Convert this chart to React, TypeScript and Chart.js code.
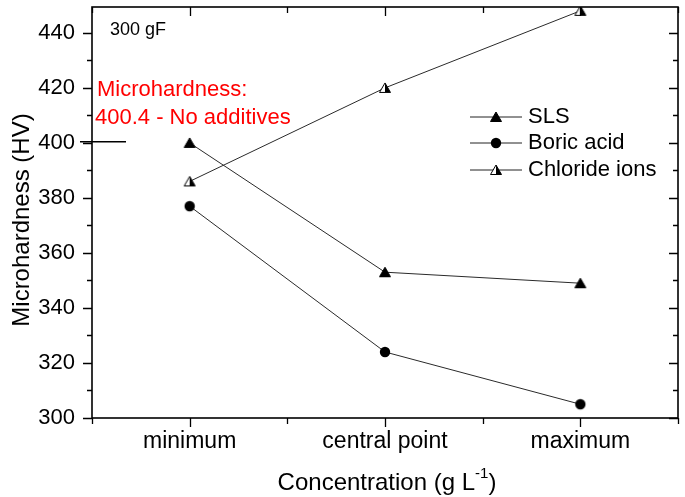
import React, { useEffect, useRef } from "react";
import { Chart, registerables } from "chart.js";

Chart.register(...registerables);

const categories = ["minimum", "central point", "maximum"];
const slsValues = [400, 353, 349];
const boricValues = [377, 324, 305];
const chlorideValues = [386, 420, 448];
const seriesNames = ["SLS", "Boric acid", "Chloride ions"];
const yMin = 300;
const yMax = 449.4;
const yTickValues = [300, 320, 340, 360, 380, 400, 420, 440];
const noAdditiveValue = 400.4;

const FONT = "'Liberation Sans', Arial, sans-serif";

function makeMarker(kind: string): HTMLCanvasElement {
  const c = document.createElement("canvas");
  c.width = 14;
  c.height = 14;
  const g = c.getContext("2d")!;
  g.lineWidth = 1;
  g.strokeStyle = "#000";
  if (kind === "circle") {
    g.fillStyle = "#000";
    g.beginPath();
    g.arc(7, 7, 5.2, 0, Math.PI * 2);
    g.fill();
  } else {
    const tri = () => {
      g.beginPath();
      g.moveTo(7, 2);
      g.lineTo(12.5, 11.5);
      g.lineTo(1.5, 11.5);
      g.closePath();
    };
    if (kind === "tri") {
      g.fillStyle = "#000";
      tri();
      g.fill();
      g.stroke();
    } else {
      g.fillStyle = "#fff";
      tri();
      g.fill();
      g.fillStyle = "#000";
      g.beginPath();
      g.moveTo(7, 2);
      g.lineTo(12.5, 11.5);
      g.lineTo(7, 11.5);
      g.closePath();
      g.fill();
      tri();
      g.stroke();
    }
  }
  return c;
}

export default function App() {
  const ref = useRef<HTMLCanvasElement>(null);
  useEffect(() => {
    const markers = [makeMarker("tri"), makeMarker("circle"), makeMarker("half")];
    const seriesValues = [slsValues, boricValues, chlorideValues];

    const decor = {
      id: "decor",
      afterDraw(chart: any) {
        const { ctx, chartArea, scales } = chart;
        const { left, right, top, bottom } = chartArea;
        const x = scales.x;
        const y = scales.y;
        ctx.save();
        ctx.strokeStyle = "#000";
        ctx.lineWidth = 1.6;
        ctx.strokeRect(left, top, right - left, bottom - top);
        ctx.lineWidth = 1.3;
        for (let v = yMin; v <= 440; v += 10) {
          const py = Math.round(y.getPixelForValue(v)) + 0.5;
          const len = v % 20 === 0 ? 9 : 5;
          ctx.beginPath();
          ctx.moveTo(left - len, py);
          ctx.lineTo(left, py);
          ctx.moveTo(right, py);
          ctx.lineTo(right - len, py);
          ctx.stroke();
        }
        for (let v = 0.5; v <= 3.5; v += 0.5) {
          const px = Math.round(x.getPixelForValue(v)) + 0.5;
          const len = Number.isInteger(v) ? 9 : 6;
          ctx.beginPath();
          ctx.moveTo(px, bottom);
          ctx.lineTo(px, bottom + len);
          ctx.moveTo(px, top);
          ctx.lineTo(px, top + len);
          ctx.stroke();
        }
        ctx.fillStyle = "#000";
        ctx.textBaseline = "middle";
        ctx.textAlign = "left";
        ctx.font = `18px ${FONT}`;
        ctx.fillText("300 gF", 110, 30);
        ctx.fillStyle = "#ff0000";
        ctx.font = `22px ${FONT}`;
        ctx.fillText("Microhardness:", 97, 90);
        ctx.fillText("400.4 - No additives", 95, 118);
        const ny = y.getPixelForValue(noAdditiveValue);
        ctx.strokeStyle = "#000";
        ctx.lineWidth = 1.5;
        ctx.beginPath();
        ctx.moveTo(80, ny);
        ctx.lineTo(126, ny);
        ctx.stroke();
        const rows = [117, 143, 170];
        ctx.font = `22px ${FONT}`;
        ctx.fillStyle = "#000";
        seriesNames.forEach((name, i) => {
          const ry = rows[i];
          ctx.strokeStyle = "#222";
          ctx.lineWidth = 1;
          ctx.beginPath();
          ctx.moveTo(470, ry);
          ctx.lineTo(522, ry);
          ctx.stroke();
          ctx.drawImage(markers[i], 496 - 7, ry - 7);
          ctx.fillText(name, 528, ry);
        });
        ctx.save();
        ctx.translate(22, 220);
        ctx.rotate(-Math.PI / 2);
        ctx.textAlign = "center";
        ctx.font = `24px ${FONT}`;
        ctx.fillText("Microhardness (HV)", 0, 0);
        ctx.restore();
        const main = "Concentration (g L";
        const sup = "-1";
        const end = ")";
        ctx.font = `24px ${FONT}`;
        const w1 = ctx.measureText(main).width;
        const w3 = ctx.measureText(end).width;
        ctx.font = `15px ${FONT}`;
        const w2 = ctx.measureText(sup).width;
        const total = w1 + w2 + w3;
        const cx = (left + right) / 2 + 2;
        let sx = cx - total / 2;
        const ty = 483;
        ctx.font = `24px ${FONT}`;
        ctx.fillText(main, sx, ty);
        sx += w1;
        ctx.font = `15px ${FONT}`;
        ctx.fillText(sup, sx, ty - 9);
        sx += w2;
        ctx.font = `24px ${FONT}`;
        ctx.fillText(end, sx, ty);
        ctx.restore();
      },
    };

    const chart = new Chart(ref.current!, {
      type: "line",
      data: {
        datasets: seriesNames.map((name, i) => ({
          label: name,
          data: seriesValues[i].map((v, j) => ({ x: j + 1, y: v })),
          borderColor: "#2a2a2a",
          borderWidth: 1,
          pointStyle: markers[i],
          pointRadius: 6,
          pointHoverRadius: 6,
          fill: false,
          tension: 0,
        })),
      },
      options: {
        responsive: false,
        animation: false,
        events: [],
        layout: { padding: { top: 3, right: 2, left: 0, bottom: 0 } },
        plugins: { legend: { display: false }, tooltip: { enabled: false } },
        scales: {
          x: {
            type: "linear",
            min: 0.5,
            max: 3.5,
            grid: { display: false, drawTicks: false },
            border: { display: false },
            afterBuildTicks: (s: any) => {
              s.ticks = categories.map((_, i) => ({ value: i + 1 }));
            },
            afterFit: (s: any) => {
              s.height = 79;
              s.paddingLeft = 0;
              s.paddingRight = 0;
              s.paddingTop = 0;
              s.paddingBottom = 0;
            },
            ticks: {
              padding: 10,
              color: "#000",
              font: { family: FONT, size: 23 },
              maxRotation: 0,
              autoSkip: false,
              callback: (v: any) => categories[Math.round(Number(v)) - 1] ?? "",
            },
          },
          y: {
            type: "linear",
            min: yMin,
            max: yMax,
            grid: { display: false, drawTicks: false },
            border: { display: false },
            afterBuildTicks: (s: any) => {
              s.ticks = yTickValues.map((v) => ({ value: v }));
            },
            afterFit: (s: any) => {
              s.width = 92;
              s.paddingTop = 0;
              s.paddingBottom = 0;
              s.paddingLeft = 0;
              s.paddingRight = 0;
            },
            ticks: {
              padding: 17,
              color: "#000",
              font: { family: FONT, size: 22 },
              callback: (v: any) => String(v),
            },
          },
        },
      },
      plugins: [decor],
    });
    return () => chart.destroy();
  }, []);

  return (
    <div style={{ position: "absolute", left: 0, top: 0, width: 685, height: 497, background: "#fff" }}>
      <canvas ref={ref} width={685} height={497} style={{ width: 685, height: 497, display: "block" }} />
    </div>
  );
}
